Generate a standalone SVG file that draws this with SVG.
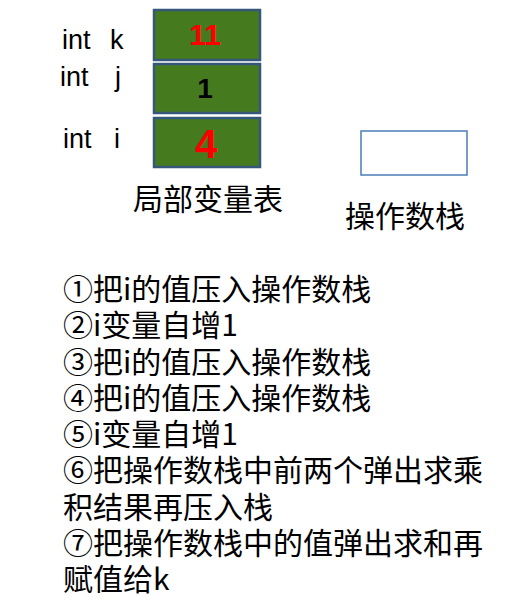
<svg xmlns="http://www.w3.org/2000/svg" width="519" height="608" viewBox="0 0 519 608">
<style>
.cell{fill:#467a1f;stroke:#35587a;stroke-width:2.5}
.lbl{font-family:"Liberation Sans",Arial,sans-serif;font-size:27px;fill:#000}
.val{font-family:"Liberation Sans",Arial,sans-serif;font-weight:bold;text-anchor:middle}
.cjk{font-family:"Noto Sans CJK SC","Microsoft YaHei",sans-serif;font-size:30px;fill:#000}
</style>
<rect width="519" height="608" fill="#fff"/>
<g id="var-k">
<text class="lbl" x="62" y="49">int</text>
<text class="lbl" x="110" y="49">k</text>
<rect class="cell" x="154" y="10" width="106" height="50"/>
<text class="val" x="205" y="45" font-size="30" fill="#ff0000">11</text>
</g>
<g id="var-j">
<text class="lbl" x="60" y="86">int</text>
<text class="lbl" x="115" y="86">j</text>
<rect class="cell" x="154" y="64" width="106" height="49"/>
<text class="val" x="205" y="98" font-size="28" fill="#000">1</text>
</g>
<g id="var-i">
<text class="lbl" x="63" y="148">int</text>
<text class="lbl" x="114" y="148">i</text>
<rect class="cell" x="154" y="118" width="106" height="49"/>
<text class="val" x="206" y="158" font-size="40" fill="#ff0000">4</text>
</g>
<g id="operand-stack">
<rect x="361" y="131" width="106" height="44" fill="#fff" stroke="#4a7cb8" stroke-width="1.5"/>
</g>
<g id="connectors"></g>
<text class="cjk" x="133" y="210">局部变量表</text>
<text class="cjk" x="345" y="227">操作数栈</text>
<g id="steps" class="cjk">
<text x="63" y="300">①把i的值压入操作数栈</text>
<text x="63" y="336">②i变量自增1</text>
<text x="63" y="373">③把i的值压入操作数栈</text>
<text x="63" y="409">④把i的值压入操作数栈</text>
<text x="63" y="445">⑤i变量自增1</text>
<text x="63" y="481">⑥把操作数栈中前两个弹出求乘</text>
<text x="63" y="518">积结果再压入栈</text>
<text x="63" y="554">⑦把操作数栈中的值弹出求和再</text>
<text x="63" y="590">赋值给k</text>
</g>
</svg>
